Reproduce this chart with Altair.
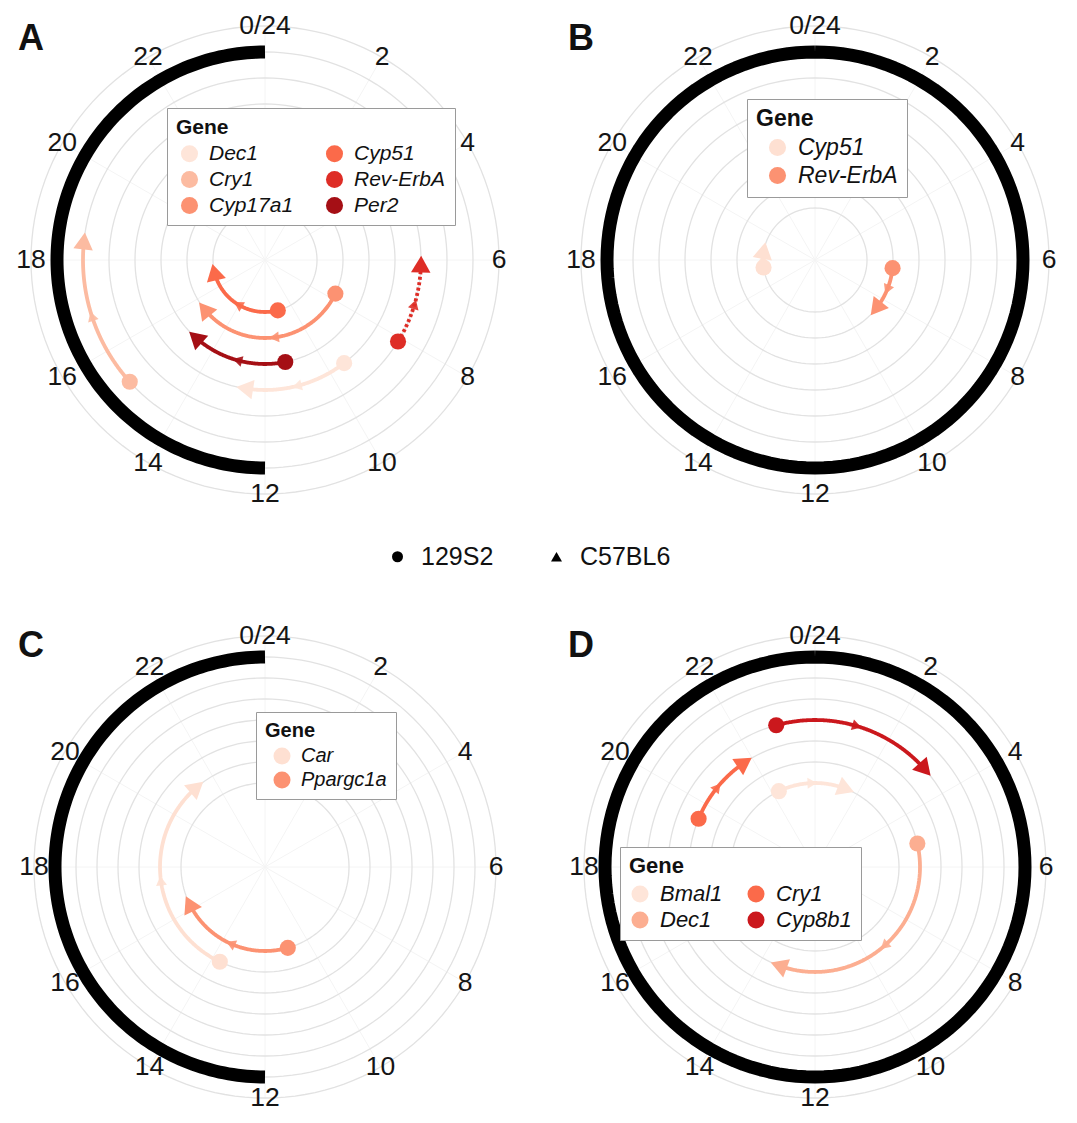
import altair as alt
import pandas as pd

FONT = "Liberation Sans"

HOURS = [0, 2, 4, 6, 8, 10, 12, 14, 16, 18, 20, 22]
HOUR_LABELS = ["0/24", "2", "4", "6", "8", "10", "12", "14", "16", "18", "20", "22"]
STRAINS = ["129S2", "C57BL6"]

# ---- Panel A ----
A_GENES = ["Dec1", "Cry1", "Cyp17a1", "Cyp51", "Rev-ErbA", "Per2"]
A_COLORS = ["#fee5d9", "#fcbba1", "#fc9272", "#fb6a4a", "#de2d26", "#a50f15"]
A_P129 = [9.5, 15.2, 7.7, 11.05, 8.1, 11.25]      # phase (h) in 129S2
A_B6 = [12.6, 18.4, 15.4, 17.1, 6.1, 14.8]         # phase (h) in C57BL6
A_LEVEL = [5, 7, 3, 2, 6, 4]
A_LINE = ["solid", "solid", "solid", "solid", "dotted", "solid"]
A_RING = [12, 24]
A_GRID = [2, 3, 4, 5, 6, 7, 8, 9]

# ---- Panel B ----
B_GENES = ["Cyp51", "Rev-ErbA"]
B_COLORS = ["#fee0d2", "#fc9272"]
B_P129 = [17.45, 6.4]
B_B6 = [18.7, 8.57]
B_LEVEL = [2, 3]
B_LINE = ["solid", "solid"]
B_RING = [0, 24]
B_GRID = [2, 3, 4, 5, 6, 7, 8, 9]

# ---- Panel C ----
C_GENES = ["Car", "Ppargc1a"]
C_COLORS = ["#fee0d2", "#fc9272"]
C_P129 = [13.7, 10.95]
C_B6 = [21.3, 16.27]
C_LEVEL = [5, 4]
C_LINE = ["solid", "solid"]
C_RING = [12, 24]
C_GRID = [4, 5, 6, 7, 8, 9, 10, 11]

# ---- Panel D ----
D_GENES = ["Bmal1", "Dec1", "Cry1", "Cyp8b1"]
D_COLORS = ["#fee5d9", "#fcae91", "#fb6a4a", "#cb181d"]
D_P129 = [22.3, 5.14, 19.5, 22.98]
D_B6 = [1.45, 13.35, 21.74, 3.23]
D_LEVEL = [4, 5, 6, 7]
D_LINE = ["solid", "solid", "solid", "solid"]
D_RING = [0, 24]
D_GRID = [4, 5, 6, 7, 8, 9, 10, 11]

PANELS = {
    "A": dict(genes=A_GENES, colors=A_COLORS, p129=A_P129, b6=A_B6, level=A_LEVEL,
              line=A_LINE, ring=A_RING, grid=A_GRID, ring_level=8, label_level=9,
              px=26, cols=2, lxy=(152, 98), fs=21, soff=3, cpad=27, height=500),
    "B": dict(genes=B_GENES, colors=B_COLORS, p129=B_P129, b6=B_B6, level=B_LEVEL,
              line=B_LINE, ring=B_RING, grid=B_GRID, ring_level=8, label_level=9,
              px=26, cols=1, lxy=(182, 89), fs=23, soff=10, cpad=30, height=500),
    "C": dict(genes=C_GENES, colors=C_COLORS, p129=C_P129, b6=C_B6, level=C_LEVEL,
              line=C_LINE, ring=C_RING, grid=C_GRID, ring_level=10, label_level=11,
              px=21, cols=1, lxy=(241, 95), fs=20, soff=7, cpad=30, height=490),
    "D": dict(genes=D_GENES, colors=D_COLORS, p129=D_P129, b6=D_B6, level=D_LEVEL,
              line=D_LINE, ring=D_RING, grid=D_GRID, ring_level=10, label_level=11,
              px=21, cols=2, lxy=(55, 230), fs=22, soff=0, cpad=22, height=490),
}


def pol(level, hour):
    return (f"datum.{level} * sin(datum.{hour} * PI / 12)",
            f"datum.{level} * cos(datum.{hour} * PI / 12)")


def make_panel(letter, cfg):
    s = cfg["px"]
    H = cfg["height"]
    xs = alt.Scale(domain=[-250 / s, 250 / s], nice=False, zero=False)
    ys = alt.Scale(domain=[-(H - 250) / s, 250 / s], nice=False, zero=False)
    X = alt.X("x:Q", scale=xs, axis=None)
    Y = alt.Y("y:Q", scale=ys, axis=None)

    genes = cfg["genes"]
    cols = cfg["cols"]
    order = list(genes)
    crange = list(cfg["colors"])

    def cs():  # scale for the legend layer
        return alt.Scale(domain=order, range=crange)

    def cs_rev():  # same mapping, different domain order (keeps legends apart)
        return alt.Scale(domain=order[::-1], range=crange[::-1])

    df = pd.DataFrame({"gene": genes, "p129": cfg["p129"], "b6": cfg["b6"],
                       "level": cfg["level"], "line": cfg["line"]})
    delta = "((datum.b6 - datum.p129 + 36) % 24) - 12"

    # spokes
    sp = pd.DataFrame({"hour": HOURS})
    spx, spy = pol("lv", "hour")
    spokes = alt.Chart(sp).transform_calculate(
        lv=str(cfg["label_level"]), x0="0", y0="0", x2=spx, y2=spy
    ).mark_rule(color="#f4f4f4", strokeWidth=1).encode(
        x=alt.X("x0:Q", scale=xs, axis=None), y=alt.Y("y0:Q", scale=ys, axis=None),
        x2="x2:Q", y2="y2:Q")

    # grid circles
    gx, gy = pol("level", "h")
    grid = alt.Chart(pd.DataFrame({"level": cfg["grid"]})).transform_calculate(
        i="sequence(0, 145)"
    ).transform_flatten(["i"]).transform_calculate(
        h="datum.i / 6", x=gx, y=gy
    ).mark_line(color="#e2e2e2", strokeWidth=1.3).encode(
        x=X, y=Y, detail="level:Q", order="i:Q")

    # black band
    ring = alt.Chart(pd.DataFrame({"h0": [cfg["ring"][0]], "h1": [cfg["ring"][1]],
                                   "level": [cfg["ring_level"]]})).transform_calculate(
        i="sequence(0, 145)"
    ).transform_flatten(["i"]).transform_calculate(
        h="datum.h0 + (datum.h1 - datum.h0) * datum.i / 144", x=gx, y=gy
    ).mark_line(color="black", strokeWidth=13, strokeCap="butt", strokeJoin="round").encode(
        x=X, y=Y, order="i:Q")

    # hour labels
    lx, ly = pol("lv", "hour")
    labels = alt.Chart(pd.DataFrame({"hour": HOURS, "label": HOUR_LABELS})).transform_calculate(
        lv=str(cfg["label_level"]), x=lx, y=ly
    ).mark_text(font=FONT, fontSize=26.5, color="#151515", align="center",
                baseline="middle").encode(x=X, y=Y, text="label:N")

    # arcs
    ax, ay = pol("level", "h")
    arcs = alt.Chart(df).transform_calculate(
        d=delta, i="sequence(0, 61)"
    ).transform_flatten(["i"]).transform_calculate(
        h="datum.p129 + datum.d * datum.i / 60", x=ax, y=ay
    ).mark_line(strokeWidth=3.8, strokeCap="butt", strokeJoin="round").encode(
        x=X, y=Y,
        stroke=alt.Stroke("gene:N", scale=cs_rev(), legend=None),
        detail="gene:N", order="i:Q",
        strokeDash=alt.StrokeDash("line:N", scale=alt.Scale(domain=["solid", "dotted"],
                                                           range=[[1, 0], [3, 2.5]]),
                                  legend=None))

    # mid arrows
    mids = alt.Chart(df).transform_calculate(
        d=delta
    ).transform_calculate(
        h="datum.p129 + datum.d / 2", x=ax, y=ay,
        ang="((datum.h * 15 + (datum.d > 0 ? 90 : -90)) % 360 + 360) % 360"
    ).mark_point(shape="triangle-up", filled=True, size=120, opacity=0.9,
                 strokeWidth=0).encode(
        x=X, y=Y, fill=alt.Fill("gene:N", scale=cs_rev(), legend=None),
        angle=alt.Angle("ang:Q", scale=None))

    # end triangles (C57BL6)
    ex, ey = pol("level", "b6")
    ends = alt.Chart(df).transform_calculate(
        d=delta
    ).transform_calculate(
        x=ex, y=ey,
        ang="((datum.b6 * 15 + (datum.d > 0 ? 90 : -90)) % 360 + 360) % 360"
    ).mark_point(shape="triangle-up", filled=True, size=380, opacity=1,
                 strokeWidth=0).encode(
        x=X, y=Y, fill=alt.Fill("gene:N", scale=cs_rev(), legend=None),
        angle=alt.Angle("ang:Q", scale=None))

    # start circles (129S2) with gene legend
    sx, sy = pol("level", "p129")
    fs = cfg["fs"]
    starts = alt.Chart(df).transform_calculate(x=sx, y=sy).mark_point(
        shape="circle", filled=True, size=260, opacity=1).encode(
        x=X, y=Y,
        color=alt.Color("gene:N", scale=cs(), legend=alt.Legend(
            title="Gene", orient="none", legendX=cfg["lxy"][0], legendY=cfg["lxy"][1],
            columns=cols, titleFont=FONT, titleFontSize=fs, titleFontWeight="bold",
            titleColor="#111111", titlePadding=5, labelFont=FONT, labelFontSize=fs,
            labelFontStyle="italic", labelColor="#111111", labelOffset=9,
            symbolType="circle", symbolSize=290, symbolStrokeWidth=0, symbolOpacity=1,
            symbolOffset=cfg["soff"],
            fillColor="white", strokeColor="#9a9a9a", padding=9, rowPadding=4,
            columnPadding=cfg["cpad"])))

    # panel letter
    let = alt.Chart(pd.DataFrame({"letter": [letter]})).transform_calculate(
        x=str(-234 / s), y=str(221 / s)
    ).mark_text(font=FONT, fontSize=36, fontWeight="bold", color="#111111",
                align="center", baseline="middle").encode(x=X, y=Y, text="letter:N")

    return alt.layer(spokes, grid, ring, labels, arcs, mids, ends, starts, let).properties(
        width=500, height=H)


pA = make_panel("A", PANELS["A"])
pB = make_panel("B", PANELS["B"])
pC = make_panel("C", PANELS["C"])
pD = make_panel("D", PANELS["D"])

mid = alt.Chart(pd.DataFrame({"strain": STRAINS})).transform_filter("false").mark_point(
    filled=True, color="black", size=121).encode(
    shape=alt.Shape("strain:N", scale=alt.Scale(domain=STRAINS, range=["circle", "triangle-up"]),
                    legend=alt.Legend(title=None, orient="none", legendX=370, legendY=34,
                                      direction="horizontal", labelFont=FONT, labelFontSize=25,
                                      labelColor="#111111", symbolSize=121,
                                      symbolFillColor="black", symbolStrokeColor="black",
                                      symbolStrokeWidth=0, symbolOpacity=1,
                                      columnPadding=50, labelOffset=11))
).properties(width=1050, height=107)

RES = dict(x="independent", y="independent", color="independent", fill="independent",
           stroke="independent", strokeDash="independent")

top = alt.hconcat(pA, pB, spacing=50).resolve_scale(**RES).resolve_legend(
    color="independent")
bottom = alt.hconcat(pC, pD, spacing=50).resolve_scale(**RES).resolve_legend(
    color="independent")

chart = alt.vconcat(top, mid, bottom, spacing=0).resolve_scale(
    shape="independent", **RES
).resolve_legend(color="independent", shape="independent").properties(
    padding={"left": 7, "top": 2, "right": 0, "bottom": 0}
).configure_view(stroke=None)

chart.save("out.html", embed_options={"renderer": "svg", "actions": False})
